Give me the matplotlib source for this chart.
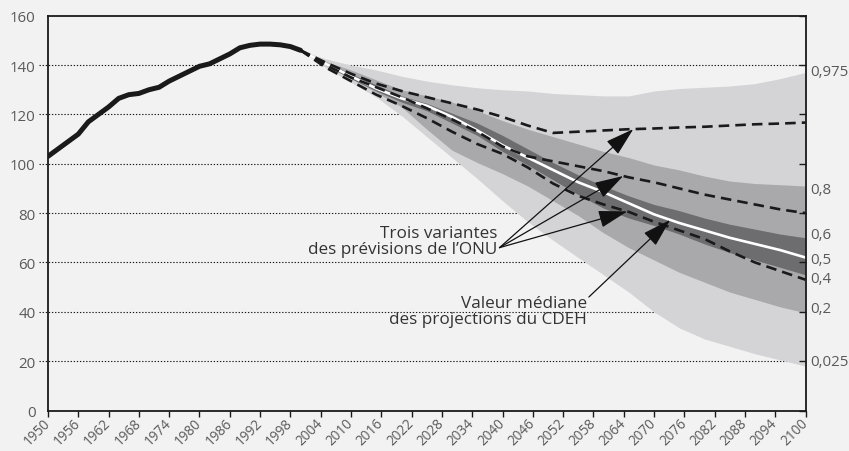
import numpy as np
import matplotlib
matplotlib.use("Agg")
import matplotlib.pyplot as plt

plt.rcParams['font.family'] = ['Open Sans', 'DejaVu Sans']

# ---------------- data ----------------
hist_years = [1950, 1952, 1954, 1956, 1958, 1960, 1962, 1964, 1966, 1968, 1970,
              1972, 1974, 1976, 1978, 1980, 1982, 1984, 1986, 1988, 1990, 1992,
              1994, 1996, 1998, 2000]
hist_values = [103, 106, 109, 112, 117, 120, 123, 126.5, 128, 128.5, 130,
               131, 133.5, 135.5, 137.5, 139.5, 140.5, 142.5, 144.5, 147, 148, 148.5,
               148.5, 148.2, 147.5, 146]

proj_years = [2000, 2005, 2010, 2015, 2020, 2025, 2030, 2035, 2040, 2045, 2050,
              2055, 2060, 2065, 2070, 2075, 2080, 2085, 2090, 2095, 2100]

q025 = [146, 139, 133, 127, 119.5, 111, 102.5, 94, 85, 76.5, 69,
        62, 55, 48, 40, 33.5, 29, 26, 23, 20.5, 18]
q20 = [146, 140, 134.5, 129, 123, 114, 105.5, 100.5, 96, 91, 85,
       79, 72, 66, 61, 56, 52, 48, 45, 42, 39.6]
q40 = [146, 140, 134.5, 129.5, 125, 121.5, 116.5, 111.5, 105, 99.5, 93.5,
       87.5, 82, 78, 75, 71.5, 67.5, 64, 61, 58, 55]
q50 = [146, 140.5, 135.5, 130.5, 126.5, 123.5, 119, 113.5, 107.5, 102.5, 97.5,
       92.5, 88.5, 84, 79.5, 76, 73, 70, 67.5, 65, 62]
q60 = [146, 141, 136.5, 132, 127.5, 124.5, 120.5, 116.5, 111.5, 106, 100.5,
       95.5, 91, 87, 83.5, 81, 78, 75.5, 73.5, 71.5, 70]
q80 = [146, 141.5, 138, 134, 130, 127.5, 125, 121.5, 117.5, 114, 111,
       108, 105, 102.5, 99.5, 97.5, 95, 93, 92, 91.5, 91]
q975 = [146, 142.5, 140, 138, 135.5, 133.5, 132, 130.8, 130, 129.5, 128.5,
        128, 127.5, 127.5, 129.5, 130.5, 131, 131.5, 132.5, 134.5, 137]

un_high = [146, 141, 136.5, 132.5, 129.5, 127, 124.5, 122, 119, 115.5, 112.5,
           113, 113.5, 114, 114.3, 114.7, 115, 115.5, 116, 116.3, 116.7]
un_medium = [146, 140, 135, 131, 127, 122.5, 118, 113, 107, 103, 101,
             99, 97, 94.5, 92.5, 90, 87.5, 85.5, 83.5, 81.5, 80]
un_low = [146, 139, 133.5, 128, 123.5, 118.5, 113, 108, 104, 98.5, 92,
          87, 83.5, 80.5, 76.5, 73, 69.5, 64.5, 60, 56.5, 53]

y_ticks = [0, 20, 40, 60, 80, 100, 120, 140, 160]
x_ticks = list(range(1950, 2101, 6))
quantile_labels = ['0,975', '0,8', '0,6', '0,5', '0,4', '0,2', '0,025']
quantile_label_y = [137.5, 89.4, 71.2, 61.4, 53.7, 41.2, 19.7]

# ---------------- figure ----------------
BG = '#f2f2f2'
fig = plt.figure(figsize=(8.49, 4.52), dpi=100, facecolor=BG)
ax = fig.add_axes([0.0565, 0.0896, 0.8923, 0.8734])
ax.set_facecolor(BG)

ax.set_xlim(1950, 2100)
ax.set_ylim(0, 160)

# grid lines (dotted), extending a little left of the axis
ytr = ax.get_yaxis_transform()
for v in y_ticks[1:-1]:
    ax.plot([-0.012, 1], [v, v], transform=ytr, clip_on=False,
            color='#1a1a1a', lw=0.8, ls=(0, (1.2, 1.6)), zorder=0.5)

# bands
ax.fill_between(proj_years, q025, q975, color='#d4d4d6', lw=0, zorder=1)
ax.fill_between(proj_years, q20, q80, color='#a9a9ac', lw=0, zorder=1.1)
ax.fill_between(proj_years, q40, q60, color='#6d6d70', lw=0, zorder=1.2)

# history
ax.plot(hist_years, hist_values, color='#1a1a1a', lw=3.6,
        solid_capstyle='round', zorder=3)

# median
ax.plot(proj_years, q50, color='white', lw=1.9, zorder=2.5)

# UN variants
for ser in (un_high, un_medium, un_low):
    ax.plot(proj_years, ser, color='#1a1a1a', lw=1.9,
            ls=(0, (4, 2.3)), zorder=3)

# spines
for s in ax.spines.values():
    s.set_color('#1a1a1a')
    s.set_linewidth(1.3)
    s.set_zorder(4)

# ticks
ax.set_yticks(y_ticks)
ax.set_yticklabels([str(v) for v in y_ticks])
ax.tick_params(axis='y', left=False, right=True, direction='in', length=5,
               width=1, color='#1a1a1a', labelleft=True, labelright=False,
               pad=9, labelsize=10.8, labelcolor='#595959')
ax.set_xticks(x_ticks)
ax.set_xticklabels([str(v) for v in x_ticks], rotation=45, ha='right',
                   va='center', rotation_mode='anchor')
ax.tick_params(axis='x', direction='out', length=4, width=1, color='#1a1a1a',
               pad=3, labelsize=9.8, labelcolor='#595959')

# quantile labels on the right
for lab, yv in zip(quantile_labels, quantile_label_y):
    ax.text(1.006, yv, lab, transform=ytr, ha='left', va='center',
            fontsize=10.8, color='#595959', clip_on=False)

# annotations
txt_kw = dict(fontsize=12.3, color='#333333', ha='right', va='center',
              linespacing=1.0, zorder=5)
ax.text(2038.9, 68.5, "Trois variantes\ndes prévisions de l\u2019ONU", **txt_kw)
ax.text(2056.7, 40.2, "Valeur médiane\ndes projections du CDEH", **txt_kw)

arrow_kw = dict(arrowstyle='-|>,head_length=0.9,head_width=0.27',
                color='#111111', lw=0.9, shrinkA=0, shrinkB=0,
                mutation_scale=20)
start_un = (2039.4, 66.0)
for yr, ser in ((2065.9, un_high), (2063.9, un_medium), (2064.7, un_low)):
    tip = (yr, float(np.interp(yr, proj_years, ser)))
    ax.annotate('', xy=tip, xytext=start_un, arrowprops=arrow_kw, zorder=5)

yr_med = 2073.2
ax.annotate('', xy=(yr_med, float(np.interp(yr_med, proj_years, q50))),
            xytext=(2057.1, 46.0), arrowprops=arrow_kw, zorder=5)

fig.savefig('out.png', dpi=100, facecolor=BG)
